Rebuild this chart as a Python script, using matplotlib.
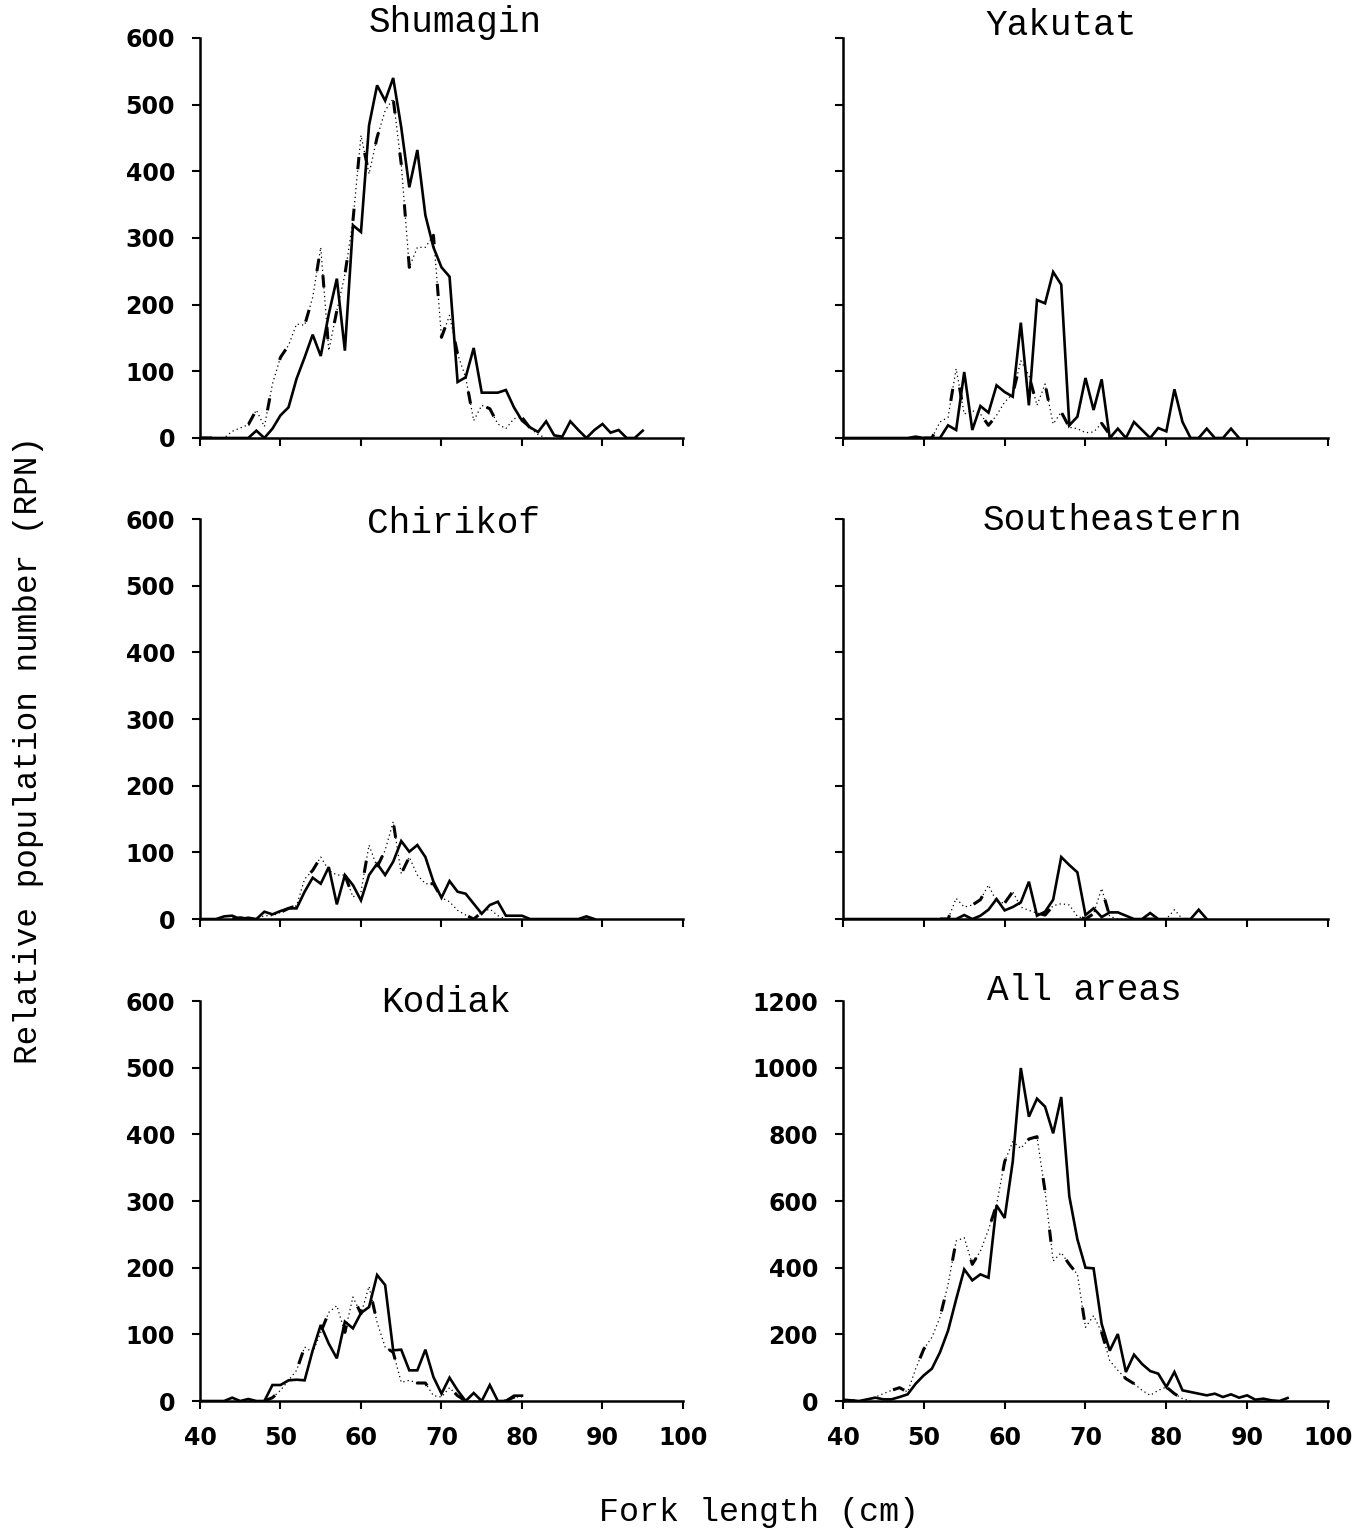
import numpy as np
import matplotlib.pyplot as plt

# relative population number (RPN) by fork length (cm)
# each series starts at the given length and steps 1 cm
shumagin_solid_start = 40
shumagin_solid = [0, 0, 0, 0, 0, 0, 0, 11, 0, 14, 34, 46, 89, 121, 155, 123, 186, 239, 131, 319,
                  309, 469, 529, 506, 540, 466, 376, 432, 334, 286, 256, 242, 84, 91, 135, 68,
                  68, 68, 72, 46, 26, 16, 9, 25, 4, 2, 25, 12, 0, 12, 21, 8, 12, 0, 0, 11]
shumagin_dash_start = 40
shumagin_dash = [0, 0, 0, 0, 10, 15, 20, 42, 17, 81, 121, 139, 171, 169, 211, 286, 131, 191, 245,
                 326, 454, 396, 451, 491, 509, 411, 256, 286, 286, 304, 151, 184, 126, 91, 26, 49,
                 44, 21, 14, 29, 31, 15, 5, 0]

yakutat_solid_start = 40
yakutat_solid = [0, 0, 0, 0, 0, 0, 0, 0, 0, 2, 0, 0, 0, 19, 12, 99, 12, 48, 38, 79, 69, 62, 173,
                 49, 207, 202, 249, 230, 19, 32, 90, 42, 88, 0, 14, 0, 24, 12, 0, 15, 10, 73, 24,
                 0, 0, 14, 0, 0, 14, 0]
yakutat_dash_start = 50
yakutat_dash = [0, 0, 24, 31, 104, 36, 41, 36, 19, 34, 54, 66, 116, 94, 49, 81, 21, 39, 16, 14, 8,
                9, 22, 5, 0]

chirikof_solid_start = 40
chirikof_solid = [0, 0, 0, 4, 5, 0, 2, 0, 11, 7, 12, 16, 16, 41, 62, 53, 78, 22, 66, 51, 28, 66,
                  83, 66, 86, 117, 101, 111, 93, 56, 32, 57, 41, 38, 23, 8, 21, 26, 5, 5, 5, 0, 0,
                  0, 0, 0, 0, 0, 4, 0]
chirikof_dash_start = 44
chirikof_dash = [0, 2, 0, 0, 5, 5, 10, 16, 20, 60, 73, 93, 73, 66, 66, 33, 41, 111, 78, 103, 146,
                 68, 93, 66, 53, 53, 32, 26, 13, 6, 0, 10, 15, 5, 0]

southeastern_solid_start = 40
southeastern_solid = [0, 0, 0, 0, 0, 0, 0, 0, 0, 0, 0, 0, 0, 0, 0, 6, 0, 5, 14, 30, 13, 18, 25,
                      56, 5, 11, 29, 93, 81, 70, 6, 16, 3, 10, 10, 5, 0, 0, 9, 0, 0, 0, 0, 0, 14, 0]
southeastern_dash_start = 52
southeastern_dash = [0, 0, 31, 18, 21, 29, 51, 26, 24, 41, 18, 13, 9, 6, 20, 23, 21, 4, 0, 8, 46,
                     4, 0, 0, 0, 0, 0, 0, 0, 14, 0]

kodiak_solid_start = 40
kodiak_solid = [0, 0, 0, 0, 5, 0, 3, 0, 0, 24, 24, 31, 32, 31, 76, 114, 86, 64, 119, 109, 132,
                141, 189, 174, 76, 77, 46, 46, 77, 36, 11, 35, 16, 0, 12, 0, 24, 0, 0, 8, 8]
kodiak_dash_start = 48
kodiak_dash = [0, 5, 16, 31, 46, 81, 73, 103, 133, 143, 103, 156, 131, 172, 118, 81, 73, 28, 31,
               27, 27, 8, 6, 20, 8, 0, 0, 0, 0, 0, 0, 6, 6]

all_solid_start = 40
all_solid = [4, 2, 0, 5, 10, 5, 5, 12, 20, 52, 77, 97, 146, 211, 305, 395, 362, 380, 370, 587, 549,
             718, 999, 853, 907, 883, 803, 912, 614, 485, 400, 398, 231, 151, 201, 87, 139, 111,
             90, 82, 42, 87, 32, 27, 22, 17, 22, 12, 20, 10, 17, 4, 7, 2, 0, 9]
all_dash_start = 40
all_dash = [0, 0, 0, 5, 12, 22, 32, 40, 27, 97, 156, 191, 251, 350, 480, 490, 410, 450, 514, 589,
            718, 778, 758, 786, 793, 629, 420, 445, 410, 380, 221, 256, 206, 121, 92, 67, 52, 32,
            17, 32, 42, 22, 7, 0]

titles = ['Shumagin', 'Yakutat', 'Chirikof', 'Southeastern', 'Kodiak', 'All areas']
y_max = [600, 600, 600, 600, 600, 1200]
y_step = [100, 100, 100, 100, 100, 200]
x_ticks = [40, 50, 60, 70, 80, 90, 100]

panels = [
    (shumagin_solid_start, shumagin_solid, shumagin_dash_start, shumagin_dash),
    (yakutat_solid_start, yakutat_solid, yakutat_dash_start, yakutat_dash),
    (chirikof_solid_start, chirikof_solid, chirikof_dash_start, chirikof_dash),
    (southeastern_solid_start, southeastern_solid, southeastern_dash_start, southeastern_dash),
    (kodiak_solid_start, kodiak_solid, kodiak_dash_start, kodiak_dash),
    (all_solid_start, all_solid, all_dash_start, all_dash),
]

# layout, in figure fractions
col_x = [0.1464, 0.6171]
col_w = [0.3536, 0.3551]
row_y = [0.7141, 0.4001, 0.0855]
row_h = 0.2611
title_pos = [(0.528, 1.015), (0.449, 1.008), (0.524, 0.965),
             (0.556, 0.972), (0.510, 0.972), (0.497, 1.003)]

MONO = 'Liberation Mono'
plt.rcParams['font.family'] = 'DejaVu Sans'

fig = plt.figure(figsize=(13.66, 15.32), dpi=100)

for i, (s0, solid, d0, dash) in enumerate(panels):
    r, c = divmod(i, 2)
    ax = fig.add_axes([col_x[c], row_y[r], col_w[c], row_h])

    xs = np.arange(s0, s0 + len(solid))
    xd = np.arange(d0, d0 + len(dash))
    # dash-dot line: faint dots with heavy dashes on top
    ax.plot(xd, dash, color='black', lw=0.9, dashes=(1, 2.5))
    ax.plot(xd, dash, color='black', lw=2.2, dashes=(4, 13))
    ax.plot(xs, solid, color='black', lw=1.9, solid_joinstyle='miter')

    ax.set_xlim(40, 100)
    ax.set_ylim(0, y_max[i])
    ax.set_xticks(x_ticks)
    ax.set_yticks(np.arange(0, y_max[i] + 1, y_step[i]))
    for side in ('top', 'right'):
        ax.spines[side].set_visible(False)
    for side in ('left', 'bottom'):
        ax.spines[side].set_linewidth(1.8)
    ax.tick_params(direction='out', length=6, width=1.5, pad=12, labelsize=17)
    for lab in ax.get_xticklabels() + ax.get_yticklabels():
        lab.set_fontweight('bold')

    if r < 2:
        ax.set_xticklabels([])
    if c == 1 and r < 2:
        ax.set_yticklabels([])

    ax.text(title_pos[i][0], title_pos[i][1], titles[i], transform=ax.transAxes,
            ha='center', va='baseline', fontsize=26, family=MONO)

fig.text(0.0205, 0.5104, 'Relative population number (RPN)', rotation=90,
         ha='center', va='center', fontsize=23.5, family=MONO)
fig.text(0.556, 0.013, 'Fork length (cm)', ha='center', va='center',
         fontsize=24, family=MONO)

fig.savefig('out.png', dpi=100)
